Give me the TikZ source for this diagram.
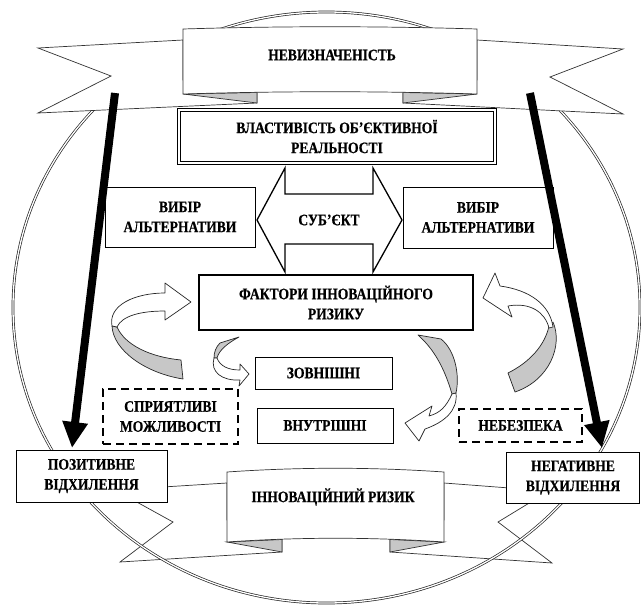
\documentclass[tikz,border=0pt]{standalone}
\usepackage{fontspec}
\setmainfont{Liberation Serif}[FakeStretch=0.85, BoldFeatures={FakeBold=0.5}]
\usetikzlibrary{arrows.meta}
\definecolor{rib}{gray}{0.2}
\definecolor{fold}{gray}{0.78}
\begin{document}
\begin{tikzpicture}[x=1pt,y=-1pt,
  lbl/.style={font=\fontsize{16}{20}\selectfont\bfseries, align=center, text=black},
  box/.style={lbl, draw=black, line width=1pt, fill=white, inner sep=0pt},
  dbox/.style={lbl, draw=black, line width=2pt, dash pattern=on 8pt off 5pt, fill=white, inner sep=0pt},
  wing/.style={fill=white, draw=rib, line width=0.7pt, line join=miter},
  tab/.style={fill=fold, draw=rib, line width=0.7pt},
  curl/.style={fill=white, draw=black!85, line width=0.7pt, line join=round},
  curlg/.style={fill=fold, draw=black!85, line width=0.7pt, line join=round},
  bigarrow/.style={line width=8pt, -{Triangle[length=26pt,width=24pt]}}
]
\useasboundingbox (0,0) rectangle (641,606);

% ---- bottom banner (behind the ring)
\path[wing] (227,483) -- (115,490) -- (173,522) -- (120,562) -- (282,552) -- (282,520) -- (227,520) -- cycle;
\path[wing] (444,483) -- (549,491) -- (498,522) -- (552,563) -- (390,552) -- (390,520) -- (444,520) -- cycle;
\path[tab] (227,542) -- (282,539.5) -- (282,552) -- cycle;
\path[tab] (444,542) -- (390,539.5) -- (390,552) -- cycle;
\path[wing] (227,472) .. controls (300,467) and (371,467) .. (444,472) -- (444,542) .. controls (371,537) and (300,537) .. (227,542) -- cycle;
\node[lbl] (risk) at (333,497) {ІННОВАЦІЙНИЙ РИЗИК};

% ---- ring
\draw[draw=black!85, line width=0.7pt, double=white, double distance=1.3pt] (326.5,307.5) ellipse [x radius=313.5pt, y radius=295.5pt];

% ---- top banner
\path[wing] (183,40) -- (38,48) -- (111,76) -- (38,113) -- (257,103) -- (257,80) -- (183,80) -- cycle;
\path[wing] (477,40) -- (623,49) -- (550,77) -- (623,114) -- (403,103) -- (403,80) -- (477,80) -- cycle;
\path[tab] (183,94) -- (257,92.5) -- (257,103) -- cycle;
\path[tab] (477,94) -- (403,92.5) -- (403,103) -- cycle;
\path[wing] (183,29) .. controls (281,26) and (379,26) .. (477,29) -- (477,94) .. controls (379,91) and (281,91) .. (183,94) -- cycle;
\node[lbl] (unc) at (332,55) {НЕВИЗНАЧЕНІСТЬ};

% ---- boxes
\node[box, minimum width=319pt, minimum height=56pt] (vlast) at (337,136.5) {ВЛАСТИВІСТЬ ОБ’ЄКТИВНОЇ\\РЕАЛЬНОСТІ};
\draw[line width=1.3pt] ([shift={(3.2pt,-3.2pt)}]vlast.north west) rectangle ([shift={(-3.2pt,3.2pt)}]vlast.south east);
\node[box, minimum width=150pt, minimum height=60pt] (vl) at (180,217) {ВИБІР\\АЛЬТЕРНАТИВИ};
\node[box, minimum width=150pt, minimum height=61pt] (vr) at (478,217.5) {ВИБІР\\АЛЬТЕРНАТИВИ};

% subject double arrow
\path[fill=white, draw=black, line width=1.3pt, line join=miter] (257,220) -- (285,168) -- (285,194) -- (373,194) -- (373,168) -- (402,220) -- (373,272) -- (373,244) -- (285,244) -- (285,272) -- cycle;
\node[lbl] (sub) at (329,220) {СУБ’ЄКТ};

\node[box, minimum width=274pt, minimum height=55pt, line width=2.2pt] (fact) at (336,302.5) {ФАКТОРИ ІННОВАЦІЙНОГО\\РИЗИКУ};
\node[box, minimum width=137pt, minimum height=32pt] (zovn) at (323.5,373) {ЗОВНІШНІ};
\node[box, minimum width=136pt, minimum height=35pt] (vnut) at (325,425.5) {ВНУТРІШНІ};
\node[dbox, minimum width=135pt, minimum height=55pt] (spr) at (170.5,416.5) {СПРИЯТЛИВІ\\МОЖЛИВОСТІ};
\node[dbox, minimum width=123pt, minimum height=33pt] (neb) at (520.5,425.5) {НЕБЕЗПЕКА};
\node[box, minimum width=151pt, minimum height=52pt] (poz) at (91.5,476) {ПОЗИТИВНЕ\\ВІДХИЛЕННЯ};
\node[box, minimum width=133pt, minimum height=51pt] (neg) at (573,477.5) {НЕГАТИВНЕ\\ВІДХИЛЕННЯ};

% ---- curled ribbon arrows
% left big
\path[curlg] (112,326) -- (117,327) .. controls (125,345) and (150,357) .. (181,360) -- (183,379) .. controls (145,373) and (113,350) .. (112,326) -- cycle;
\path[curl] (112,326) .. controls (108,305) and (135,293) .. (165,293) -- (165,283) -- (191,302) -- (165,320) -- (165,311) .. controls (140,311) and (122,316) .. (117,327) -- cycle;
% small
\path[curlg] (220,343) -- (239,337) .. controls (228,343) and (219,350) .. (217,358) -- (214,358) .. controls (214,352) and (216,347) .. (220,343) -- cycle;
\path[curl] (214,358) .. controls (210,372) and (222,381) .. (240,380) -- (239,386) -- (249,374) -- (240,364) -- (240,370) .. controls (228,370) and (220,366) .. (217,358) -- cycle;
% right middle
\path[curlg] (418,335) -- (441,339) .. controls (455,350) and (460,375) .. (456,393) -- (452,394) .. controls (445,370) and (435,350) .. (418,335) -- cycle;
\path[curl] (452,394) .. controls (446,407) and (440,413) .. (429,416) -- (432,406) -- (405,423) -- (419,441) -- (425,429) .. controls (445,422) and (458,410) .. (456,393) -- cycle;
% right far
\path[curlg] (549,326) -- (553,322) .. controls (563,345) and (550,380) .. (515,392) -- (508,373) .. controls (530,362) and (545,345) .. (549,326) -- cycle;
\path[curl] (553,327) .. controls (550,305) and (530,290) .. (500,286) -- (495,273) -- (483,298) -- (512,317) -- (508,306) .. controls (530,302) and (545,312) .. (549,328) -- cycle;

% ---- thick arrows
\coordinate (la0) at (115,93);
\coordinate (la1) at (72,448);
\coordinate (ra0) at (530,93);
\coordinate (ra1) at (602,448);
\draw[bigarrow] (la0) -- (la1);
\draw[bigarrow] (ra0) -- (ra1);
\end{tikzpicture}
\end{document}
